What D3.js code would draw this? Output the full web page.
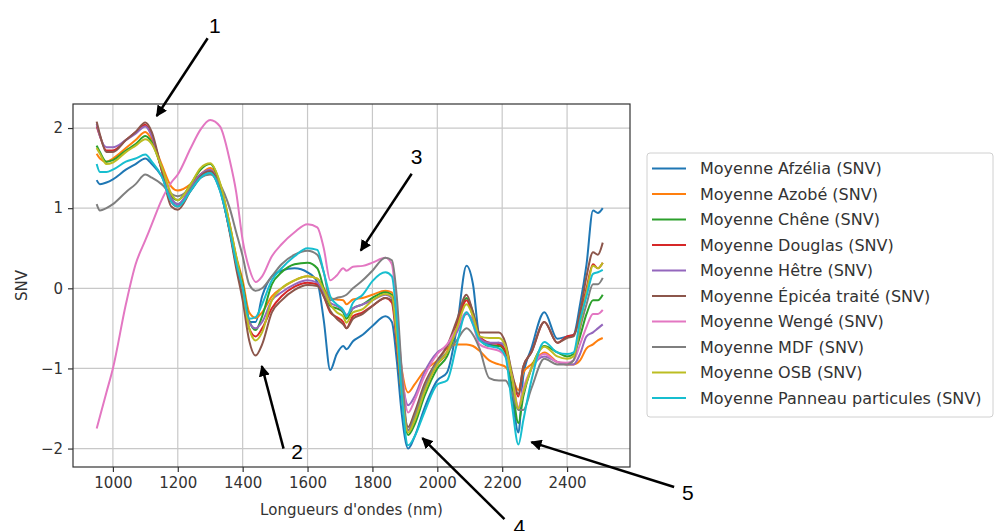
<html>
  <head>
    <script src='https://d3js.org/d3.v7.min.js'></script>
    <style> body {margin: 0; background: white} </style>
  </head>
  <body>
    <svg width=995 height=531></svg>
    <script>
      // wavelengths (nm) shared by every series
      var wavelengths = [950, 960, 980, 1000, 1040, 1070, 1100, 1120, 1150, 1180, 1200, 1240, 1270, 1300, 1330, 1360,
        1380, 1400, 1420, 1440, 1460, 1490, 1520, 1560, 1600, 1630, 1650, 1670, 1690, 1710, 1720, 1740,
        1770, 1800, 1840, 1860, 1875, 1890, 1910, 1930, 1960, 2000, 2030, 2060, 2090, 2110, 2130, 2160,
        2190, 2210, 2230, 2250, 2265, 2290, 2330, 2370, 2400, 2420, 2440, 2460, 2480, 2495, 2510];

      var afzelia = [1.35, 1.3, 1.32, 1.36, 1.48, 1.55, 1.62, 1.55, 1.4, 1.12, 1.05, 1.22, 1.38, 1.44, 1.22, 0.72,
        0.32, 0.0, -0.42, -0.42, -0.1, 0.15, 0.22, 0.25, 0.2, 0.08, -0.4, -1.02, -0.82, -0.72, -0.76, -0.66,
        -0.58, -0.47, -0.35, -0.42, -0.9, -1.55, -2.0, -1.85, -1.5, -1.15, -1.05, -0.5, 0.28, 0.05, -0.6, -0.7,
        -0.68, -0.8, -1.3, -1.8, -1.1, -0.75, -0.3, -0.63, -0.6, -0.58, -0.2, 0.3, 0.97, 0.94, 1.0];
      var azobe = [1.68, 1.62, 1.58, 1.62, 1.75, 1.85, 1.95, 1.85, 1.55, 1.27, 1.22, 1.3, 1.42, 1.5, 1.3, 0.8,
        0.4, 0.1, -0.3, -0.37, -0.3, -0.1, 0.0, 0.1, 0.15, 0.12, 0.0, -0.12, -0.14, -0.15, -0.2, -0.14,
        -0.12, -0.08, -0.03, -0.05, -0.5, -1.0, -1.3, -1.2, -1.03, -0.9, -0.75, -0.7, -0.7, -0.72, -0.78, -0.9,
        -0.95, -0.98, -1.1, -1.27, -1.05, -0.95, -0.8, -0.92, -0.95, -0.95, -0.9, -0.75, -0.7, -0.65, -0.62];
      var chene = [1.78, 1.7, 1.58, 1.6, 1.72, 1.8, 1.9, 1.82, 1.5, 1.15, 1.1, 1.3, 1.48, 1.55, 1.3, 0.78,
        0.38, 0.05, -0.4, -0.52, -0.35, 0.05, 0.2, 0.3, 0.32, 0.25, 0.0, -0.22, -0.25, -0.3, -0.38, -0.25,
        -0.2, -0.12, -0.05, -0.08, -0.6, -1.3, -1.83, -1.7, -1.35, -1.0, -0.85, -0.5, -0.12, -0.3, -0.62, -0.72,
        -0.72, -0.8, -1.2, -1.68, -1.35, -1.0, -0.72, -0.8, -0.85, -0.82, -0.6, -0.32, -0.15, -0.15, -0.08];
      var douglas = [2.02, 1.9, 1.72, 1.72, 1.85, 1.95, 2.04, 1.9, 1.48, 1.08, 1.02, 1.25, 1.42, 1.47, 1.25, 0.72,
        0.3, -0.05, -0.5, -0.6, -0.5, -0.25, -0.1, 0.02, 0.07, 0.05, -0.1, -0.3, -0.36, -0.42, -0.5, -0.35,
        -0.3, -0.22, -0.12, -0.18, -0.7, -1.3, -1.77, -1.6, -1.25, -0.95, -0.8, -0.45, -0.15, -0.35, -0.6, -0.68,
        -0.7, -0.78, -1.1, -1.35, -0.98, -0.8, -0.42, -0.68, -0.6, -0.58, -0.35, 0.0, 0.3, 0.25, 0.32];
      var hetre = [2.05, 1.9, 1.76, 1.76, 1.85, 1.93, 2.02, 1.9, 1.5, 1.12, 1.05, 1.26, 1.42, 1.48, 1.25, 0.75,
        0.33, 0.0, -0.42, -0.5, -0.42, -0.15, -0.05, 0.05, 0.1, 0.07, -0.05, -0.18, -0.22, -0.28, -0.33, -0.25,
        -0.2, -0.15, -0.08, -0.12, -0.6, -1.1, -1.46, -1.35, -1.05, -0.8, -0.72, -0.55, -0.32, -0.4, -0.62, -0.68,
        -0.68, -0.72, -1.1, -1.5, -1.3, -1.0, -0.85, -0.92, -0.95, -0.95, -0.82, -0.6, -0.55, -0.5, -0.45];
      var epicea = [2.08, 1.92, 1.7, 1.7, 1.85, 1.95, 2.07, 1.95, 1.48, 1.02, 0.98, 1.22, 1.4, 1.46, 1.25, 0.7,
        0.25, -0.15, -0.65, -0.84, -0.7, -0.3, -0.15, -0.02, 0.04, 0.03, -0.1, -0.28, -0.38, -0.45, -0.5, -0.38,
        -0.32, -0.22, -0.12, -0.15, -0.6, -1.25, -1.73, -1.55, -1.2, -0.9, -0.72, -0.4, -0.08, -0.3, -0.55, -0.55,
        -0.55, -0.68, -1.05, -1.32, -0.98, -0.8, -0.42, -0.68, -0.62, -0.6, -0.3, 0.15, 0.45, 0.42, 0.57];
      var wenge = [-1.75, -1.6, -1.3, -1.0, -0.2, 0.3, 0.6, 0.8, 1.1, 1.32, 1.42, 1.75, 1.98, 2.1, 2.02, 1.6,
        1.2, 0.6, 0.25, 0.08, 0.15, 0.4, 0.55, 0.7, 0.8, 0.76, 0.5, 0.1, 0.16, 0.25, 0.22, 0.27,
        0.28, 0.32, 0.38, 0.3, -0.3, -1.0, -1.55, -1.4, -1.1, -0.82, -0.7, -0.5, -0.3, -0.45, -0.7, -0.75,
        -0.78, -0.85, -1.1, -1.48, -1.25, -1.0, -0.82, -0.92, -0.93, -0.9, -0.7, -0.48, -0.32, -0.32, -0.27];
      var mdf = [1.05, 0.97, 1.0, 1.05, 1.2, 1.3, 1.42, 1.38, 1.3, 1.18, 1.15, 1.25, 1.38, 1.42, 1.3, 1.0,
        0.7, 0.4, 0.05, -0.03, 0.0, 0.15, 0.3, 0.42, 0.47, 0.42, 0.2, -0.15, -0.12, -0.1, -0.08, 0.0,
        0.1, 0.22, 0.38, 0.35, -0.1, -1.0, -1.77, -1.6, -1.25, -0.92, -0.8, -0.65, -0.5, -0.58, -0.75, -1.12,
        -1.15, -1.15, -1.3, -1.52, -1.52, -1.25, -0.88, -0.95, -0.95, -0.9, -0.5, -0.2, 0.05, 0.05, 0.13];
      var osb = [1.75, 1.68, 1.55, 1.57, 1.7, 1.78, 1.86, 1.8, 1.52, 1.18, 1.1, 1.3, 1.5, 1.56, 1.32, 0.8,
        0.4, 0.0, -0.5, -0.65, -0.55, -0.15, 0.0, 0.1, 0.15, 0.12, -0.02, -0.2, -0.3, -0.35, -0.43, -0.3,
        -0.26, -0.15, -0.07, -0.1, -0.6, -1.3, -1.8, -1.65, -1.3, -0.95, -0.8, -0.5, -0.2, -0.35, -0.6, -0.62,
        -0.62, -0.72, -1.1, -1.5, -1.3, -1.0, -0.73, -0.85, -0.88, -0.85, -0.45, -0.05, 0.28, 0.25, 0.32];
      var panneau = [1.55, 1.45, 1.45, 1.48, 1.58, 1.62, 1.67, 1.58, 1.4, 1.08, 1.02, 1.22, 1.38, 1.44, 1.22, 0.72,
        0.32, 0.0, -0.38, -0.36, -0.2, 0.1, 0.25, 0.4, 0.5, 0.48, 0.2, -0.1, -0.2, -0.27, -0.35, -0.18,
        -0.08, 0.09, 0.2, 0.15, -0.4, -1.3, -1.96, -1.85, -1.55, -1.2, -1.15, -0.7, -0.3, -0.45, -0.65, -0.72,
        -0.75, -0.85, -1.45, -1.95, -1.65, -1.15, -0.67, -0.8, -0.82, -0.8, -0.4, -0.1, 0.18, 0.2, 0.23];

      var seriesNames = ['Moyenne Afzélia (SNV)', 'Moyenne Azobé (SNV)', 'Moyenne Chêne (SNV)', 'Moyenne Douglas (SNV)',
        'Moyenne Hêtre (SNV)', 'Moyenne Épicéa traité (SNV)', 'Moyenne Wengé (SNV)', 'Moyenne MDF (SNV)',
        'Moyenne OSB (SNV)', 'Moyenne Panneau particules (SNV)'];
      var seriesValues = [afzelia, azobe, chene, douglas, hetre, epicea, wenge, mdf, osb, panneau];
      var colors = ['#1f77b4', '#ff7f0e', '#2ca02c', '#d62728', '#9467bd', '#8c564b', '#e377c2', '#7f7f7f', '#bcbd22', '#17becf'];

      var xTicks = [1000, 1200, 1400, 1600, 1800, 2000, 2200, 2400];
      var yTicks = [-2, -1, 0, 1, 2];

      // numbered arrows drawn on top of the figure (text point, arrow tail, arrow tip in data units)
      var annotations = [
        {label: '1', text: [1314, 3.28], tail: [1292, 3.12], tip: [1135, 2.15]},
        {label: '2', text: [1568, -2.04], tail: [1526, -2.0], tip: [1459, -0.97]},
        {label: '3', text: [1936, 1.64], tail: [1921, 1.43], tip: [1764, 0.47]},
        {label: '4', text: [2253, -2.97], tail: [2207, -2.88], tip: [1954, -1.87]},
        {label: '5', text: [2772, -2.55], tail: [2730, -2.48], tip: [2290, -1.92]}
      ];

      // plot box in pixels (names avoid window.top etc.)
      var plotLeft = 73, plotTop = 104, plotRight = 630, plotBottom = 467;
      var font = 'DejaVu Sans';

      var svg = d3.select('svg');
      var x = d3.scaleLinear().domain([877, 2594]).range([plotLeft, plotRight]);
      var y = d3.scaleLinear().domain([-2.23, 2.30]).range([plotBottom, plotTop]);

      // grid
      svg.append('g').selectAll('line').data(xTicks).enter().append('line')
        .attr('x1', function (d) { return x(d); }).attr('x2', function (d) { return x(d); })
        .attr('y1', plotTop).attr('y2', plotBottom)
        .style('stroke', '#c8c8c8').style('stroke-width', 1.2);
      svg.append('g').selectAll('line').data(yTicks).enter().append('line')
        .attr('x1', plotLeft).attr('x2', plotRight)
        .attr('y1', function (d) { return y(d); }).attr('y2', function (d) { return y(d); })
        .style('stroke', '#c8c8c8').style('stroke-width', 1.2);

      // lines
      var line = d3.line()
        .x(function (d, i) { return x(wavelengths[i]); })
        .y(function (d) { return y(d); })
        .curve(d3.curveMonotoneX);

      svg.append('g').selectAll('path').data(seriesValues).enter().append('path')
        .attr('d', line)
        .style('fill', 'none')
        .style('stroke', function (d, i) { return colors[i]; })
        .style('stroke-width', 2)
        .style('stroke-linejoin', 'round');

      // frame
      svg.append('rect')
        .attr('x', plotLeft).attr('y', plotTop).attr('width', plotRight - plotLeft).attr('height', plotBottom - plotTop)
        .style('fill', 'none').style('stroke', '#333').style('stroke-width', 1.2);

      // axes
      var xAxis = svg.append('g')
        .attr('transform', 'translate(0,' + plotBottom + ')')
        .call(d3.axisBottom(x).tickValues(xTicks).tickSize(5).tickPadding(5).tickFormat(d3.format('d')));
      var yAxis = svg.append('g')
        .attr('transform', 'translate(' + plotLeft + ',0)')
        .call(d3.axisLeft(y).tickValues(yTicks).tickSize(5).tickPadding(5).tickFormat(d3.format('d')));
      [xAxis, yAxis].forEach(function (g) {
        g.select('.domain').remove();
        g.selectAll('line').style('stroke', '#333').style('stroke-width', 1.2);
        g.selectAll('text').style('font-family', font).style('font-size', '15px').style('fill', '#333');
      });

      // axis titles
      svg.append('text')
        .attr('x', (plotLeft + plotRight) / 2).attr('y', 515)
        .attr('text-anchor', 'middle')
        .style('font-family', font).style('font-size', '15px').style('fill', '#333')
        .text("Longueurs d'ondes (nm)");
      svg.append('text')
        .attr('transform', 'translate(27,' + (plotTop + plotBottom) / 2 + ')rotate(-90)')
        .attr('text-anchor', 'middle')
        .style('font-family', font).style('font-size', '15px').style('fill', '#333')
        .text('SNV');

      // legend
      var legend = svg.append('g');
      legend.append('rect')
        .attr('x', 647).attr('y', 153).attr('width', 346).attr('height', 264)
        .attr('rx', 3)
        .style('fill', 'white').style('stroke', '#d0d0d0').style('stroke-width', 1);
      var item = legend.selectAll('g.item').data(seriesNames).enter().append('g')
        .attr('transform', function (d, i) { return 'translate(652,' + (168.5 + i * 25.5) + ')'; });
      item.append('line')
        .attr('x1', 0).attr('x2', 34)
        .style('stroke', function (d, i) { return colors[i]; })
        .style('stroke-width', 2);
      item.append('text')
        .attr('x', 48).attr('y', 0)
        .attr('dy', '0.35em')
        .style('font-family', font).style('font-size', '16px').style('fill', '#333')
        .text(function (d) { return d; });

      // annotations
      var defs = svg.append('defs');
      defs.append('marker')
        .attr('id', 'head').attr('viewBox', '0 0 10 10')
        .attr('refX', 9).attr('refY', 5)
        .attr('markerWidth', 4.5).attr('markerHeight', 4.5)
        .attr('orient', 'auto')
        .append('path').attr('d', 'M0,0L10,5L0,10Z').style('fill', 'black');

      var ann = svg.append('g').selectAll('g').data(annotations).enter().append('g');
      ann.append('line')
        .attr('x1', function (d) { return x(d.tail[0]); })
        .attr('y1', function (d) { return y(d.tail[1]); })
        .attr('x2', function (d) { return x(d.tip[0]); })
        .attr('y2', function (d) { return y(d.tip[1]); })
        .style('stroke', 'black').style('stroke-width', 2.5)
        .attr('marker-end', 'url(#head)');
      ann.append('text')
        .attr('x', function (d) { return x(d.text[0]); })
        .attr('y', function (d) { return y(d.text[1]); })
        .attr('text-anchor', 'middle').attr('dy', '0.36em')
        .style('font-family', 'Liberation Sans').style('font-size', '21px').style('fill', 'black')
        .text(function (d) { return d.label; });
    </script>
  </body>
</html>
